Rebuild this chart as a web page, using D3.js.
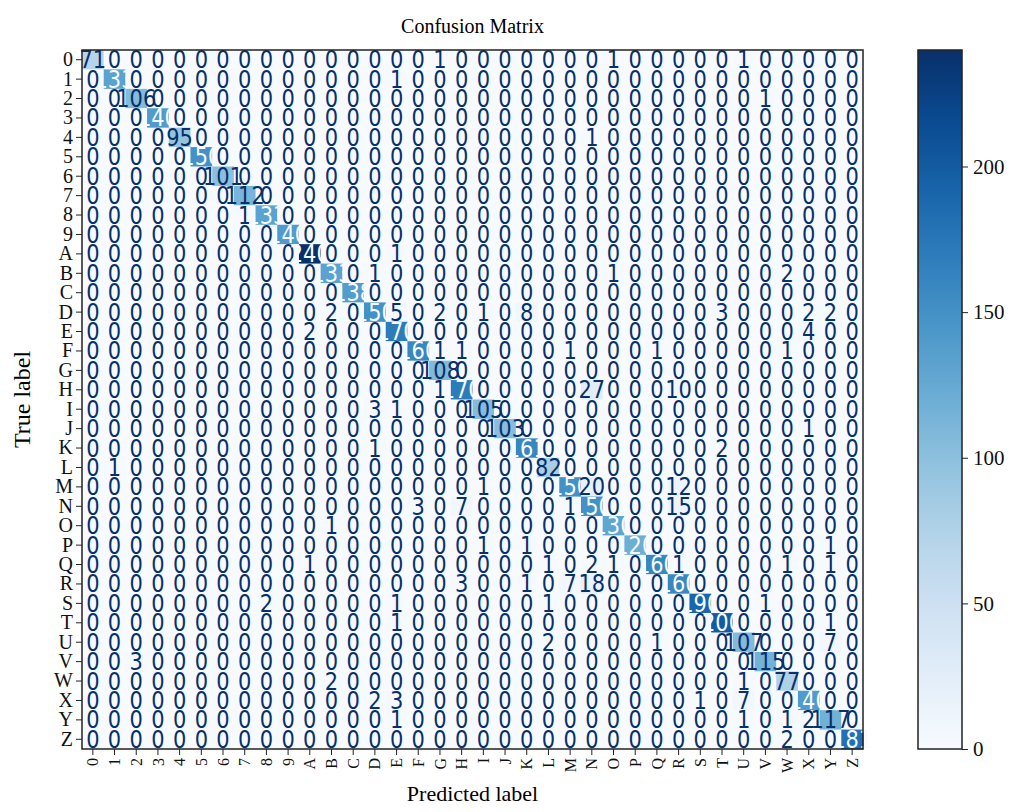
<!DOCTYPE html>
<html>
<head>
<meta charset="utf-8">
<script src="https://cdn.jsdelivr.net/npm/d3@7"></script>
<style>
  body { margin: 0; background: #fff; }
  svg text { font-family: "Liberation Serif", "Times New Roman", serif; }
  .cell-text { font-family: "DejaVu Sans", sans-serif; }
</style>
</head>
<body>
<svg id="chart" width="1016" height="812"></svg>
<script>
// class labels (rows = true, columns = predicted)
const classLabels = ["0","1","2","3","4","5","6","7","8","9",
  "A","B","C","D","E","F","G","H","I","J","K","L","M","N","O","P","Q","R","S","T","U","V","W","X","Y","Z"];

// correct predictions, one per class
const diagonal = [71,133,106,140,95,150,101,112,133,140,
  240,133,138,150,170,160,108,170,105,103,161,82,150,150,130,120,160,160,190,200,107,115,77,140,117,181];

// misclassifications: [true, predicted, count]
const offDiagonal = [
  ["0","G",1],["0","O",1],["0","U",1],
  ["1","E",1],
  ["2","V",1],
  ["4","N",1],
  ["8","7",1],
  ["A","E",1],
  ["B","D",1],["B","O",1],["B","W",2],
  ["D","B",2],["D","E",5],["D","G",2],["D","I",1],["D","K",8],["D","T",3],["D","X",2],["D","Y",2],
  ["E","A",2],["E","X",4],
  ["F","G",1],["F","H",1],["F","M",1],["F","Q",1],["F","W",1],
  ["H","G",1],["H","N",27],["H","R",10],
  ["I","D",3],["I","E",1],
  ["J","X",1],
  ["K","D",1],["K","T",2],
  ["L","1",1],
  ["M","I",1],["M","N",20],["M","R",12],
  ["N","F",3],["N","H",7],["N","M",1],["N","R",15],
  ["O","B",1],
  ["P","I",1],["P","K",1],["P","Y",1],
  ["Q","A",1],["Q","L",1],["Q","N",2],["Q","O",1],["Q","R",1],["Q","W",1],["Q","Y",1],
  ["R","H",3],["R","K",1],["R","M",7],["R","N",18],
  ["S","8",2],["S","E",1],["S","L",1],["S","V",1],
  ["T","E",1],["T","Y",1],
  ["U","L",2],["U","Q",1],["U","Y",7],
  ["V","2",3],
  ["W","B",2],["W","U",1],
  ["X","D",2],["X","E",3],["X","S",1],["X","U",7],
  ["Y","E",1],["Y","U",1],["Y","W",1],["Y","X",2],
  ["Z","W",2]
];

const colorbarTicks = [0, 50, 100, 150, 200];

// build the full matrix from the two lists
const matrix = classLabels.map((r, i) => classLabels.map((c, j) => (i === j ? diagonal[i] : 0)));
offDiagonal.forEach(([t, p, v]) => {
  matrix[classLabels.indexOf(t)][classLabels.indexOf(p)] = v;
});
const cells = [];
matrix.forEach((row, i) => row.forEach((v, j) => cells.push({ row: i, col: j, value: v })));
const maxValue = d3.max(cells, d => d.value);

const svg = d3.select("#chart");
const plot = { left: 82, right: 863, top: 50, bottom: 749 };

const x = d3.scaleBand().domain(classLabels).range([plot.left, plot.right]);
const y = d3.scaleBand().domain(classLabels).range([plot.top, plot.bottom]);
const color = d3.scaleSequential(d3.interpolateBlues).domain([0, maxValue]);
const thresh = maxValue / 2;

// ─── CELLS ───
svg.append("g")
  .selectAll("rect")
  .data(cells)
  .join("rect")
  .attr("x", d => x(classLabels[d.col]))
  .attr("y", d => y(classLabels[d.row]))
  .attr("width", x.bandwidth() + 0.5)
  .attr("height", y.bandwidth() + 0.5)
  .attr("fill", d => color(d.value));

// ─── CELL TEXT ─── (stretched a bit vertically, like the reference)
svg.append("g")
  .selectAll("text")
  .data(cells)
  .join("text")
  .attr("class", "cell-text")
  .attr("transform", d => {
    const cx = x(classLabels[d.col]) + x.bandwidth() / 2;
    const cy = y(classLabels[d.row]) + y.bandwidth() / 2;
    return `translate(${cx},${cy}) scale(1,1.15)`;
  })
  .attr("text-anchor", "middle")
  .attr("dominant-baseline", "central")
  .attr("font-size", 21)
  .attr("fill", d => (d.value < thresh ? color(maxValue) : color(0)))
  .text(d => d.value);

// frame
svg.append("rect")
  .attr("x", plot.left).attr("y", plot.top)
  .attr("width", plot.right - plot.left).attr("height", plot.bottom - plot.top)
  .attr("fill", "none").attr("stroke", "#222").attr("stroke-width", 1.5);

// ─── AXES ───
const yAxis = svg.append("g")
  .attr("transform", `translate(${plot.left},0)`)
  .call(d3.axisLeft(y).tickSize(6).tickPadding(3));
yAxis.select(".domain").remove();
yAxis.selectAll("text").attr("font-size", 20).attr("font-family", "Liberation Serif").attr("fill", "#111");
yAxis.selectAll("line").attr("stroke", "#222");

const xAxis = svg.append("g")
  .attr("transform", `translate(0,${plot.bottom})`)
  .call(d3.axisBottom(x).tickSize(6).tickPadding(3));
xAxis.select(".domain").remove();
xAxis.selectAll("line").attr("stroke", "#222");
xAxis.selectAll("text")
  .attr("font-size", 16)
  .attr("font-family", "Liberation Serif")
  .attr("fill", "#111")
  .attr("text-anchor", "end")
  .attr("dy", "0.35em")
  .attr("transform", "translate(0,9) rotate(-90)")
  .attr("x", 0).attr("y", 0);

// titles
svg.append("text")
  .attr("x", (plot.left + plot.right) / 2).attr("y", 33)
  .attr("text-anchor", "middle").attr("font-size", 20)
  .text("Confusion Matrix");

svg.append("text")
  .attr("x", (plot.left + plot.right) / 2).attr("y", 801)
  .attr("text-anchor", "middle").attr("font-size", 22)
  .text("Predicted label");

svg.append("text")
  .attr("transform", `translate(30,${(plot.top + plot.bottom) / 2}) rotate(-90)`)
  .attr("text-anchor", "middle").attr("font-size", 24)
  .text("True label");

// ─── COLORBAR ───
const cb = { left: 918, width: 44 };
const cbScale = d3.scaleLinear().domain([0, maxValue]).range([plot.bottom, plot.top]);
const defs = svg.append("defs");
const grad = defs.append("linearGradient")
  .attr("id", "cbGrad").attr("x1", 0).attr("y1", 1).attr("x2", 0).attr("y2", 0);
d3.range(0, 1.0001, 0.1).forEach(t => {
  grad.append("stop").attr("offset", t).attr("stop-color", color(t * maxValue));
});
svg.append("rect")
  .attr("x", cb.left).attr("y", plot.top)
  .attr("width", cb.width).attr("height", plot.bottom - plot.top)
  .attr("fill", "url(#cbGrad)")
  .attr("stroke", "#222").attr("stroke-width", 1.5);

const cbAxis = svg.append("g")
  .attr("transform", `translate(${cb.left + cb.width},0)`)
  .call(d3.axisRight(cbScale).tickValues(colorbarTicks).tickSize(6).tickPadding(5));
cbAxis.select(".domain").remove();
cbAxis.selectAll("line").attr("stroke", "#222");
cbAxis.selectAll("text").attr("font-size", 21).attr("font-family", "Liberation Serif").attr("fill", "#111");
</script>
</body>
</html>
